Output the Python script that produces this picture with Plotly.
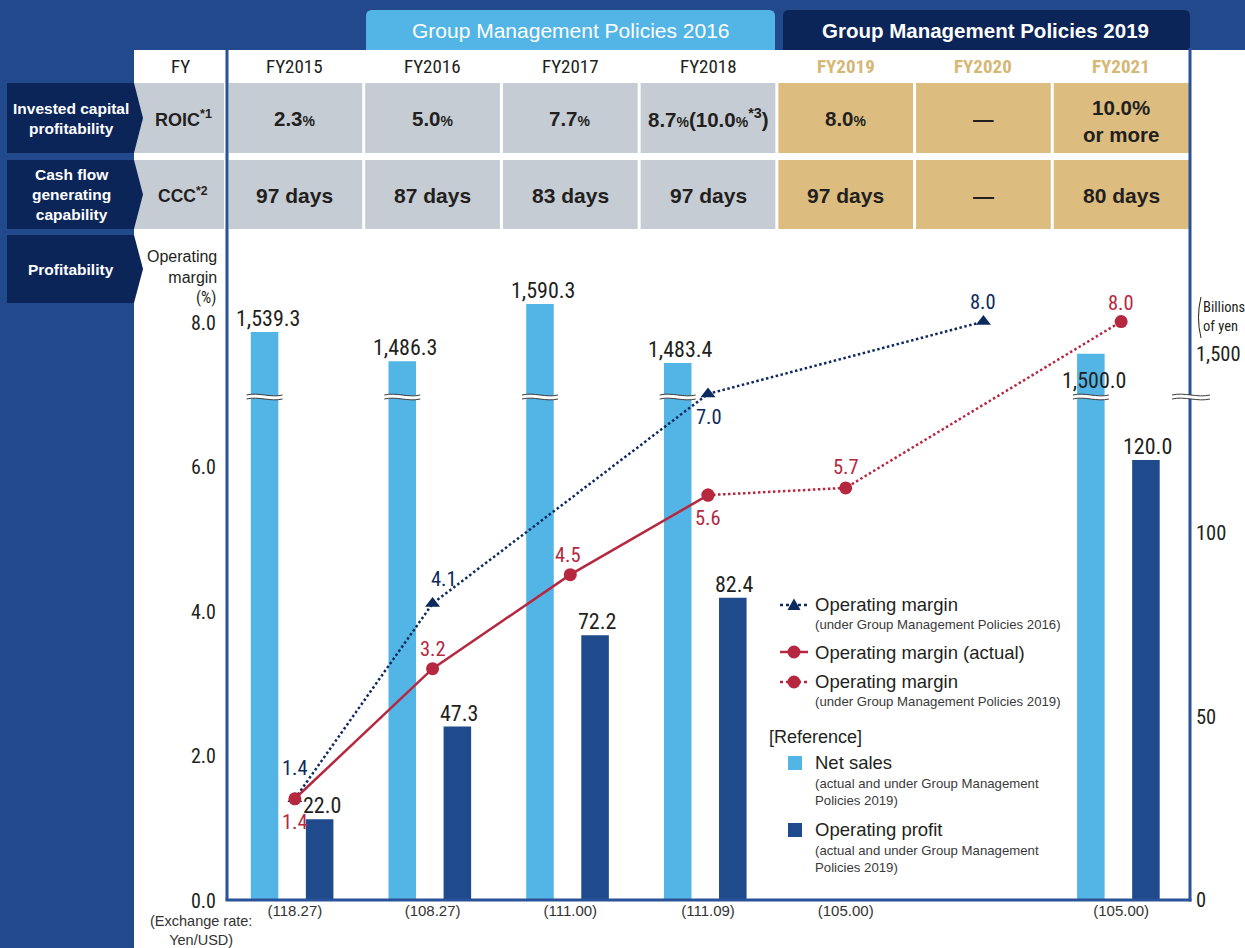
import plotly.graph_objects as go

# ---------------- data ----------------
years = ["FY2015", "FY2016", "FY2017", "FY2018", "FY2019", "FY2020", "FY2021"]
roic_text = ["2.3%", "5.0%", "7.7%", "8.7%(10.0%*3)", "8.0%", "—", "10.0%|or more"]
ccc_text = ["97 days", "87 days", "83 days", "97 days", "97 days", "—", "80 days"]
fx_rates = ["(118.27)", "(108.27)", "(111.00)", "(111.09)", "(105.00)", " ", "(105.00)"]
net_sales = [1539.3, 1486.3, 1590.3, 1483.4, None, None, 1500.0]
op_profit = [22.0, 47.3, 72.2, 82.4, None, None, 120.0]
om_plan2016 = [1.4, 4.1, None, 7.0, None, 8.0, None]
om_actual = [1.4, 3.2, 4.5, 5.6, None, None, None]
om_plan2019 = [None, None, None, 5.6, 5.7, None, 8.0]
pct_ticks = [0, 2, 4, 6, 8]
profit_ticks = [0, 50, 100]
sales_ticks = [1500]

# ---------------- style ----------------
BG = "#21498b"
NAVY_BOX = "#0b2559"
LIGHT_BLUE = "#52b5e6"
DARK_BLUE = "#1f4a8c"
AXIS_BLUE = "#2a529a"
RED = "#b5283f"
NAVY = "#0d2a5e"
GOLD = "#dcbd7f"
GOLD_TXT = "#d6b774"
GRAY = "#c6ccd3"
TXT = "#231f20"
NARROW = "Liberation Sans Narrow, Roboto Condensed, Arial Narrow, Liberation Sans, Arial, sans-serif"
SANS = "Liberation Sans, Arial, Helvetica, sans-serif"

W, H = 1245, 948
XL, XR = 226, 1190          # plot x extent (px)
YB, YT, YBRK = 900, 240, 397  # bottom, top, axis break (px)
PCT_PX = 72.3               # px per % point
PROFIT_PX = 3.667           # px per billion yen (lower part)
SALES_PX = 0.552            # px per billion yen (upper part)
SALES_REF_V, SALES_REF_Y = 1500, 353.8

n = len(years)
idx = list(range(n))


def P(x):
    return x / W


def Q(y):
    return 1 - y / H


def xpx(v):
    return XL + (v + 0.5) * (XR - XL) / n


LS_OFF, DS_OFF, BW = -0.32, 0.08, 0.2

fig = go.Figure()

# bars: net sales split across broken axis, operating profit
fig.add_bar(x=idx, y=net_sales, yaxis="y", offset=LS_OFF, width=BW,
            marker=dict(color=LIGHT_BLUE, line=dict(width=0)), hoverinfo="skip")
fig.add_bar(x=idx, y=net_sales, yaxis="y2", offset=LS_OFF, width=BW,
            marker=dict(color=LIGHT_BLUE, line=dict(width=0)), hoverinfo="skip")
fig.add_bar(x=idx, y=op_profit, yaxis="y", offset=DS_OFF, width=BW,
            marker=dict(color=DARK_BLUE, line=dict(width=0)), hoverinfo="skip")

# lines
fig.add_scatter(x=idx, y=om_plan2016, yaxis="y3", mode="lines+markers", connectgaps=True,
                line=dict(color=NAVY, width=2.5, dash="2.5px,2.5px"),
                marker=dict(symbol="triangle-up", size=13, color=NAVY))
fig.add_scatter(x=idx, y=om_plan2019, yaxis="y3", mode="lines+markers", connectgaps=True,
                line=dict(color=RED, width=2.5, dash="2.5px,2.5px"),
                marker=dict(symbol="circle", size=13, color=RED))
fig.add_scatter(x=idx, y=om_actual, yaxis="y3", mode="lines+markers",
                line=dict(color=RED, width=2.5),
                marker=dict(symbol="circle", size=13, color=RED))

shapes = []
ann = []


def rect(x0, y0, x1, y1, color, layer="below"):
    shapes.append(dict(type="rect", xref="paper", yref="paper", x0=P(x0), x1=P(x1),
                       y0=Q(y1), y1=Q(y0), fillcolor=color, line=dict(width=0), layer=layer))


def pline(x0, y0, x1, y1, color, width, dash="solid", layer="above"):
    shapes.append(dict(type="line", xref="paper", yref="paper", x0=P(x0), x1=P(x1),
                       y0=Q(y0), y1=Q(y1), line=dict(color=color, width=width, dash=dash),
                       layer=layer))


def ppath(d, fill=None, color=None, width=0, layer="above"):
    s = dict(type="path", xref="paper", yref="paper", path=d, layer=layer,
             line=dict(color=color or "rgba(0,0,0,0)", width=width))
    if fill:
        s["fillcolor"] = fill
    shapes.append(s)


def pt(x, y):
    return f"{P(x):.5f},{Q(y):.5f}"


def txt(x, y, text, size, color=TXT, family=SANS, xanchor="center", xref="paper",
        yref="paper", align="center", yanchor="middle", **kw):
    ann.append(dict(x=x, y=y, xref=xref, yref=yref, text=text, showarrow=False,
                    xanchor=xanchor, yanchor=yanchor, align=align,
                    font=dict(size=size, color=color, family=family), **kw))


# white panel
rect(134, 50, W, H, "white")


# tabs
def tab(x0, x1, y0, y1, color, r=6):
    d = (f"M {pt(x0, y1)} L {pt(x0, y0 + r)} Q {pt(x0, y0)} {pt(x0 + r, y0)} "
         f"L {pt(x1 - r, y0)} Q {pt(x1, y0)} {pt(x1, y0 + r)} L {pt(x1, y1)} Z")
    ppath(d, fill=color, layer="below")


tab(366, 775, 10, 50, LIGHT_BLUE)
tab(783, 1190, 10, 50, NAVY_BOX)
txt(P(571), Q(31), "Group Management Policies 2016", 21, "white")
txt(P(986), Q(31), "<b>Group Management Policies 2019</b>", 20.5, "white")

# table
rows = [(83, 153), (160, 229)]
for (ya, yb) in rows:
    rect(134, ya, 224, yb, GRAY)
    for i in idx:
        x0 = xpx(i - 0.5) + (2.5 if i == 0 else 1.5)
        x1 = xpx(i + 0.5) - (0 if i == n - 1 else 1.5)
        rect(x0, ya, x1, yb, GRAY if i < 4 else GOLD)

# navy label boxes
for (ya, yb) in rows + [(235, 303)]:
    ym = (ya + yb) / 2
    ppath(f"M {pt(7, ya)} L {pt(134, ya)} L {pt(143, ym)} L {pt(134, yb)} L {pt(7, yb)} Z",
          fill=NAVY_BOX, layer="above")

txt(P(71), Q(119), "<b>Invested capital<br>profitability</b>", 15.5, "white")
txt(P(71), Q(194), "<b>Cash flow<br>generating<br>capability</b>", 15.5, "white")
txt(P(71), Q(269), "<b>Profitability</b>", 15.5, "white")

txt(P(180), Q(67), "FY", 19, TXT, NARROW)
txt(P(183), Q(118), "<b>ROIC<sup>*1</sup></b>", 18)
txt(P(183), Q(195), "<b>CCC<sup>*2</sup></b>", 17.5)


def fmt_val(s):
    s = s.replace("%", "<span style='font-size:14px'>%</span>")
    s = s.replace("*3", "<sup>*3</sup>")
    return s


for i, y in enumerate(years):
    if i < 4:
        txt(i, Q(67), y, 19, TXT, NARROW, xref="x")
    else:
        txt(i, Q(67), f"<b>{y}</b>", 19, GOLD_TXT, NARROW, xref="x")
    r = roic_text[i]
    if "|" in r:
        a, b = r.split("|")
        txt(i, Q(121), f"<b>{a}<br>{b}</b>", 20.5, xref="x")
    else:
        txt(i, Q(118), f"<b>{fmt_val(r)}</b>", 20.5, xref="x")
    txt(i, Q(195), f"<b>{ccc_text[i]}</b>", 21, xref="x")

# axis frame lines
pline(227, 50, 227, YB, AXIS_BLUE, 3)
pline(1190, 48, 1190, YB + 1.5, AXIS_BLUE, 3)
pline(225.5, YB, 1191.5, YB, AXIS_BLUE, 3)

# axis titles
txt(P(219), Q(267), "Operating<br>margin", 16, TXT, SANS, xanchor="right", align="right")
txt(P(218), Q(297), "(%)", 16, TXT, NARROW, xanchor="right")
txt(P(1201), Q(317), "Billions<br>of yen", 14.5, TXT, NARROW, xanchor="left", align="left")
ppath(f"M {pt(1201, 297)} Q {pt(1196, 317)} {pt(1201, 338)}", color=TXT, width=1)
txt(P(201), Q(930), "(Exchange rate:<br>Yen/USD)", 14.5, "#333333")


# wavy axis-break marks
def wave(xc, yc, hw, amp=3.0, gap=4.0):
    x0, x1 = xc - hw, xc + hw
    w = x1 - x0
    ya, yb = yc - gap / 2, yc + gap / 2
    fill = (f"M {pt(x0, ya)} C {pt(x0 + w / 3, ya - amp)} {pt(x0 + 2 * w / 3, ya + amp)} {pt(x1, ya)} "
            f"L {pt(x1, yb)} C {pt(x0 + 2 * w / 3, yb + amp)} {pt(x0 + w / 3, yb - amp)} {pt(x0, yb)} Z")
    ppath(fill, fill="white")
    for yy in (ya, yb):
        ppath(f"M {pt(x0, yy)} C {pt(x0 + w / 3, yy - amp)} {pt(x0 + 2 * w / 3, yy + amp)} {pt(x1, yy)}",
              color="#3c3c3c", width=1)


for i, v in enumerate(net_sales):
    if v is not None:
        wave(xpx(i + LS_OFF + BW / 2), YBRK, 18)
wave(1191, YBRK, 19)

# bar value labels
for i, v in enumerate(net_sales):
    if v is None:
        continue
    inside = i == n - 1
    txt(i + LS_OFF + BW / 2, v, f"{v:,.1f}", 22, TXT, NARROW, xref="x", yref="y2",
        yanchor="top" if inside else "bottom", yshift=-12 if inside else -1, xshift=3)
for i, v in enumerate(op_profit):
    if v is None:
        continue
    txt(i + DS_OFF + BW / 2, v, f"{v:,.1f}", 22, TXT, NARROW, xref="x", yref="y",
        yanchor="bottom", yshift=-1, xshift=2)

# line value labels
label_offsets = [
    (om_plan2016, NAVY, {0: (0, 31), 1: (11, 25), 3: (1, -23), 5: (0, 20)}),
    (om_actual, RED, {0: (0, -23), 1: (0, 20), 2: (-2, 20), 3: (0, -23)}),
    (om_plan2019, RED, {4: (0, 21), 6: (0, 19)}),
]
for series, col, offs in label_offsets:
    for i, (dx, dy) in offs.items():
        v = series[i]
        txt(i, v, f"{v:.1f}", 20.5, col, NARROW, xref="x", yref="y3", xshift=dx, yshift=dy)

# manual legend
LX0, LX1, LM, LT = 780, 808, 794, 813
pline(LX0, 605, LX1, 605, NAVY, 2.5, "dot")
ppath(f"M {pt(LM - 6.5, 610)} L {pt(LM, 598.5)} L {pt(LM + 6.5, 610)} Z", fill=NAVY)
pline(LX0, 652, LX1, 652, RED, 2.5)
shapes.append(dict(type="circle", xref="paper", yref="paper", x0=P(LM - 6.5), x1=P(LM + 6.5),
                   y0=Q(658.5), y1=Q(645.5), fillcolor=RED, line=dict(width=0), layer="above"))
pline(LX0, 682, LX1, 682, RED, 2.5, "dot")
shapes.append(dict(type="circle", xref="paper", yref="paper", x0=P(LM - 6.5), x1=P(LM + 6.5),
                   y0=Q(688.5), y1=Q(675.5), fillcolor=RED, line=dict(width=0), layer="above"))
rect(788, 756, 802, 770, LIGHT_BLUE, layer="above")
rect(788, 823, 802, 837, DARK_BLUE, layer="above")

SUB = 13.2
MAIN = 18.5
SUBC = "#3a3a3a"
txt(P(LT), Q(604), "Operating margin", MAIN, TXT, SANS, xanchor="left")
txt(P(LT), Q(624), "(under Group Management Policies 2016)", SUB, SUBC, SANS, xanchor="left")
txt(P(LT), Q(652), "Operating margin (actual)", MAIN, TXT, SANS, xanchor="left")
txt(P(LT), Q(681), "Operating margin", MAIN, TXT, SANS, xanchor="left")
txt(P(LT), Q(701), "(under Group Management Policies 2019)", SUB, SUBC, SANS, xanchor="left")
txt(P(767), Q(737), "[Reference]", 18, TXT, SANS, xanchor="left")
txt(P(LT), Q(762), "Net sales", MAIN, TXT, SANS, xanchor="left")
txt(P(LT), Q(792), "(actual and under Group Management<br>Policies 2019)", SUB, SUBC, SANS,
    xanchor="left", align="left")
txt(P(LT), Q(829), "Operating profit", MAIN, TXT, SANS, xanchor="left")
txt(P(LT), Q(859), "(actual and under Group Management<br>Policies 2019)", SUB, SUBC, SANS,
    xanchor="left", align="left")

# axes ranges
pct_range = [0, (YB - YT) / PCT_PX]
profit_range = [0, (YB - YBRK) / PROFIT_PX]
sales_range = [SALES_REF_V - (YBRK - SALES_REF_Y) / SALES_PX,
               SALES_REF_V + (SALES_REF_Y - YT) / SALES_PX]

common_y = dict(showgrid=False, zeroline=False, showline=False, ticks="", anchor="x",
                automargin=False, fixedrange=True)

fig.update_layout(
    width=W, height=H, margin=dict(l=0, r=0, t=0, b=0, pad=0),
    paper_bgcolor=BG, plot_bgcolor="rgba(0,0,0,0)",
    showlegend=False, barmode="overlay",
    xaxis=dict(domain=[P(XL), P(XR)], range=[-0.5, n - 0.5], tickvals=idx, ticktext=fx_rates,
               showgrid=False, zeroline=False, showline=False, ticks="", anchor="y",
               automargin=False,
               tickfont=dict(family=SANS, size=15, color="#333333"), fixedrange=True),
    yaxis=dict(domain=[Q(YB), Q(YBRK)], range=profit_range, side="right",
               tickvals=profit_ticks, ticklabelstandoff=5,
               tickfont=dict(family=NARROW, size=20.5, color=TXT), **common_y),
    yaxis2=dict(domain=[Q(YBRK), Q(YT)], range=sales_range, side="right",
                tickvals=sales_ticks, ticktext=[f"{v:,}" for v in sales_ticks],
                ticklabelstandoff=5,
                tickfont=dict(family=NARROW, size=20.5, color=TXT), **common_y),
    yaxis3=dict(domain=[Q(YB), Q(YT)], range=pct_range, side="left",
                tickvals=pct_ticks, tickformat=".1f", ticklabelstandoff=9, ticklabelshift=1,
                tickfont=dict(family=NARROW, size=20, color=TXT), **common_y),
    shapes=shapes, annotations=ann,
)

fig.write_html("out.html", config={"displayModeBar": False},
               post_script="document.body.style.margin='0';")
